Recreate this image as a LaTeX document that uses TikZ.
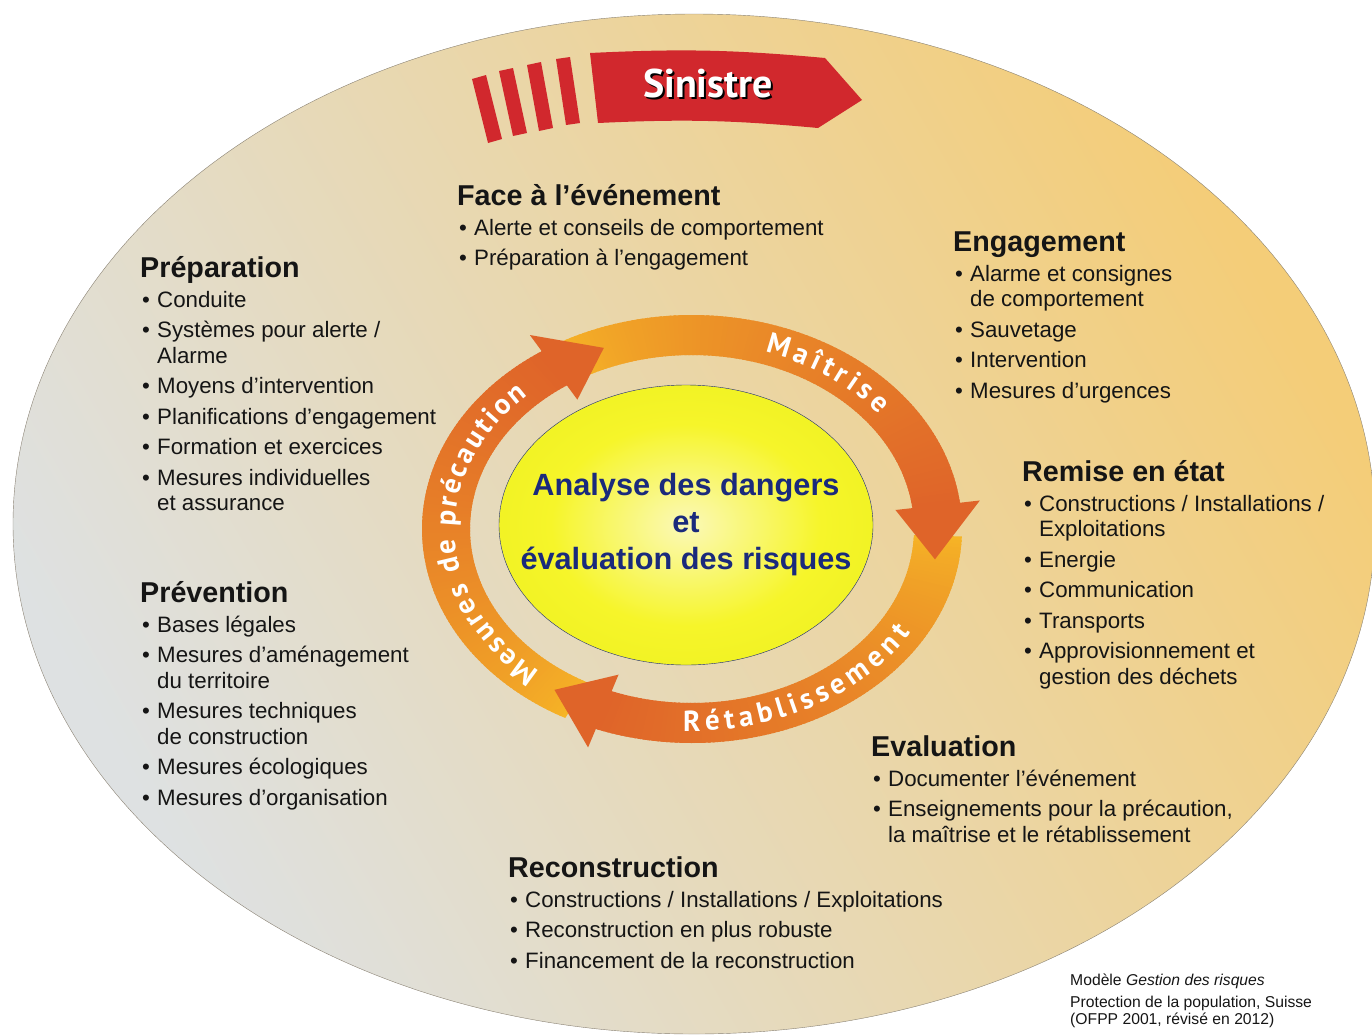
\documentclass[tikz,border=0pt]{standalone}
\usepackage{fontspec}
\setmainfont{Liberation Sans}
\newfontfamily\ptsans{PT Sans}
\usepackage{xcolor}
\usepackage{tikz}
\usetikzlibrary{shapes}
\usetikzlibrary{decorations.text}

\definecolor{bgGrey}{HTML}{DEE1E2}
\definecolor{bgYellow}{HTML}{F4CD78}
\definecolor{rimGrey}{HTML}{8A8274}
\definecolor{sinRed}{HTML}{D1282D}
\definecolor{arrLight}{HTML}{F6B526}
\definecolor{arrDark}{HTML}{DF6429}
\definecolor{coreNavy}{HTML}{1A2A7C}
\definecolor{coreIn}{HTML}{FBF9B8}
\definecolor{coreMid}{HTML}{F6F52A}
\definecolor{coreOut}{HTML}{E2EA12}
\definecolor{inkBlack}{HTML}{151515}

\pgfdeclareradialshading{coreglow}{\pgfpoint{0bp}{0bp}}{color(0bp)=(coreIn); color(18bp)=(coreMid); color(50bp)=(coreOut)}

\newcommand{\headfont}{\fontsize{28.7}{32}\selectfont\bfseries}
\newcommand{\listfont}{\fontsize{22.3}{25.7}\selectfont}
\newcommand{\corefont}{\fontsize{30.7}{37}\selectfont\bfseries}
\newcommand{\ringfont}{\fontsize{29}{29}\selectfont\ptsans\bfseries}
\newcommand{\sinfont}{\fontsize{40}{40}\selectfont\ptsans\bfseries}
\newcommand{\capfont}{\fontsize{15.7}{17}\selectfont}
\newcommand{\bul}{\makebox[15pt][l]{\textbullet}}
\newcommand{\indt}{\hspace*{15pt}}
\newcommand{\lst}[1]{\begin{tabular}[t]{@{}l@{}}#1\end{tabular}}

\tikzstyle{head}=[anchor=base west,inner sep=0pt,font=\headfont,text=inkBlack]
\tikzstyle{list}=[anchor=base west,inner sep=0pt,font=\listfont,text=inkBlack]
\tikzstyle{core}=[draw=coreNavy,shade,shading=coreglow]
\tikzstyle{coretext}=[align=center,font=\corefont,text=coreNavy]
\tikzstyle{stripe}=[fill=sinRed]
\tikzstyle{ringtext}=[decorate,decoration={text along path,text align=fit to path,text color=white}]
\tikzstyle{sintext}=[font=\sinfont,text=white]

\begin{document}
\begin{tikzpicture}[x=1pt,y=-1pt]

	\useasboundingbox (0,0) rectangle (1372,1034);
	\clip (0,0) rectangle (1372,1034);

	\path[draw=rimGrey,left color=bgGrey,right color=bgYellow,shading angle=120]
	(694,524) ellipse [x radius=681, y radius=510];

% % % Sinistre

	\fill[stripe] (472,79) -- (486,75) -- (502,139) -- (488,143) -- cycle;
	\fill[stripe] (499,71) -- (513,68) -- (527,133) -- (513,136) -- cycle;
	\fill[stripe] (527,65) -- (541,62) -- (553,128) -- (539,131) -- cycle;
	\fill[stripe] (556,59) -- (570,57) -- (580,123) -- (566,125) -- cycle;
	\fill[sinRed] (590,53) to[bend left=4] (825,58) -- (862,100) -- (818,128)
	to[bend right=4] (598,123) -- cycle;

	\node[sintext,text=black] (sinsh) at (710,85) {Sinistre};
	\node[sintext] (sin) at (708,83) {Sinistre};

% % % Blocks

	\node[head] (face) at (457,205) {Face à l’événement};
	\node[list] (facel) at (459,235) {\lst{\bul Alerte et conseils de comportement\\[4.8pt]
		\bul Préparation à l’engagement}};

	\node[head] (prep) at (140,277) {Préparation};
	\node[list] (prepl) at (142,307) {\lst{\bul Conduite\\[4.8pt]
		\bul Systèmes pour alerte /\\ \indt Alarme\\[4.8pt]
		\bul Moyens d’intervention\\[4.8pt]
		\bul Planifications d’engagement\\[4.8pt]
		\bul Formation et exercices\\[4.8pt]
		\bul Mesures individuelles\\ \indt et assurance}};

	\node[head] (prev) at (140,602) {Prévention};
	\node[list] (prevl) at (142,632) {\lst{\bul Bases légales\\[4.8pt]
		\bul Mesures d’aménagement\\ \indt du territoire\\[4.8pt]
		\bul Mesures techniques\\ \indt de construction\\[4.8pt]
		\bul Mesures écologiques\\[4.8pt]
		\bul Mesures d’organisation}};

	\node[head] (enga) at (953,251) {Engagement};
	\node[list] (engal) at (955,281) {\lst{\bul Alarme et consignes\\ \indt de comportement\\[4.8pt]
		\bul Sauvetage\\[4.8pt]
		\bul Intervention\\[4.8pt]
		\bul Mesures d’urgences}};

	\node[head] (remi) at (1022,481) {Remise en état};
	\node[list] (remil) at (1024,511) {\lst{\bul Constructions / Installations /\\ \indt Exploitations\\[4.8pt]
		\bul Energie\\[4.8pt]
		\bul Communication\\[4.8pt]
		\bul Transports\\[4.8pt]
		\bul Approvisionnement et\\ \indt gestion des déchets}};

	\node[head] (eval) at (871,756) {Evaluation};
	\node[list] (evall) at (873,786) {\lst{\bul Documenter l’événement\\[4.8pt]
		\bul Enseignements pour la précaution,\\ \indt la maîtrise et le rétablissement}};

	\node[head] (reco) at (508,877) {Reconstruction};
	\node[list] (recol) at (510,907) {\lst{\bul Constructions / Installations / Exploitations\\[4.8pt]
		\bul Reconstruction en plus robuste\\[4.8pt]
		\bul Financement de la reconstruction}};

	\node[list,font=\capfont] (cap) at (1070,985) {\lst{Modèle \textit{Gestion des risques}\\[5pt]
		Protection de la population, Suisse\\ (OFPP 2001, révisé en 2012)}};

% % % Ring

	\begin{scope}[shift={(692,529)}]
	\foreach \s/\e in {118/236, 240/353, 362/471} {
		\foreach \a in {\s,...,\e} {
			\pgfmathsetmacro\p{100*((\a-\s)/(\e-\s))^0.7}
			\pgfmathsetmacro\b{\a+1.6}
			\fill[arrDark!\p!arrLight] (\a:270 and 214) -- (\b:270 and 214)
			-- (\b:222 and 174) -- (\a:222 and 174) -- cycle;
		}
	}

	\fill[arrDark] (236:290 and 234) -- (249:246 and 194) -- (236:205 and 156) -- cycle;
	\fill[arrDark] (353:290 and 234) -- (369:246 and 194) -- (353:205 and 156) -- cycle;
	\fill[arrDark] (471:290 and 234) -- (484:246 and 194) -- (471:205 and 156) -- cycle;

	\path[ringtext,decoration={text={|\ringfont|Mesures de précaution}}]
	(130:237 and 186) arc[start angle=130, end angle=226, x radius=237, y radius=186];
	\path[ringtext,decoration={text={|\ringfont|Maîtrise}}]
	(288:237 and 186) arc[start angle=288, end angle=322, x radius=237, y radius=186];
	\path[ringtext,decoration={text={|\ringfont|Rétablissement}}]
	(92:255 and 202) arc[start angle=92, end angle=31, x radius=255, y radius=202];
	\end{scope}

% % % Core

	\path[core] (686,525) ellipse [x radius=187, y radius=140];
	\node[coretext] (core) at (686,525) {Analyse des dangers\\ et\\ évaluation des risques};

\end{tikzpicture}
\end{document}
